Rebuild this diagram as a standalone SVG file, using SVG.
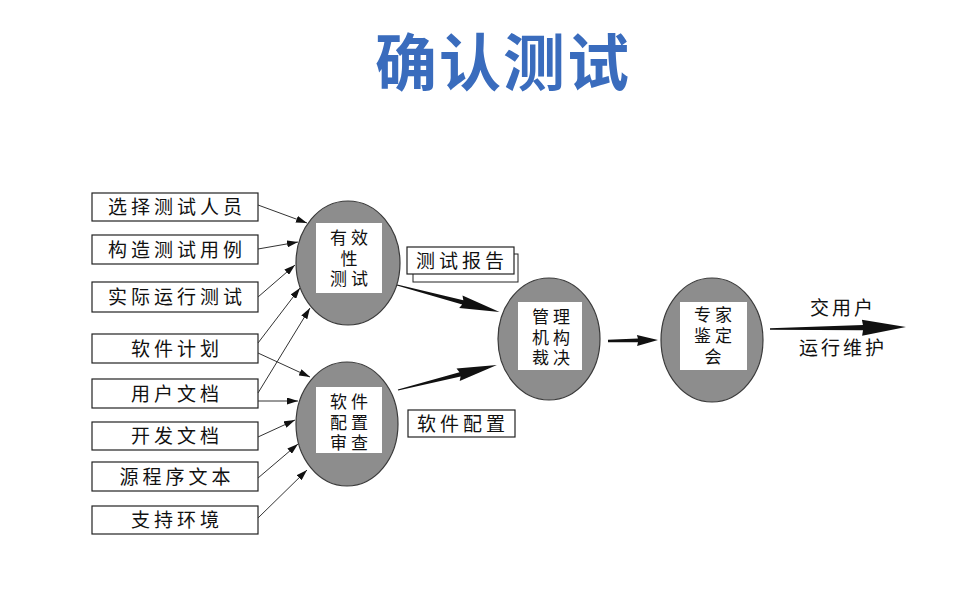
<svg xmlns="http://www.w3.org/2000/svg" width="965" height="589" viewBox="0 0 965 589">
<defs>
<style>
.t{font-family:"Noto Sans CJK SC","Noto Sans CJK JP",sans-serif;fill:#111;}
.box{fill:#fff;stroke:#222;stroke-width:1.2;}
.ell{fill:#8d8d8d;stroke:#3a3a3a;stroke-width:1.2;}
.in{fill:#fff;stroke:none;}
.lb{font-size:19px;letter-spacing:4px;}
.nd{font-family:"Liberation Sans","Noto Sans CJK SC",sans-serif;font-size:17px;letter-spacing:4px;text-anchor:middle;fill:#111;}
.thin{stroke:#333;stroke-width:1;fill:none;marker-end:url(#ah);}
.thick{fill:#111;stroke:none;}
</style>
<marker id="ah" viewBox="0 0 11 7" refX="11" refY="3.5" markerWidth="11" markerHeight="7" orient="auto" markerUnits="userSpaceOnUse">
<path d="M0,0 L11,3.5 L0,7 Z" fill="#111"/>
</marker>
</defs>
<rect width="965" height="589" fill="#fff"/>
<text x="503" y="86" text-anchor="middle" style="font-family:'Noto Sans CJK SC',sans-serif;font-weight:bold;font-size:62px;fill:#3a6cbd;letter-spacing:2px">确认测试</text>

<g id="inputs">
<g id="b1"><rect class="box" x="92" y="193" width="166" height="28"/><text class="t lb" x="177" y="214" text-anchor="middle">选择测试人员</text></g>
<g id="b2"><rect class="box" x="92" y="235" width="166" height="29"/><text class="t lb" x="177" y="256.5" text-anchor="middle">构造测试用例</text></g>
<g id="b3"><rect class="box" x="92" y="282" width="166" height="30"/><text class="t lb" x="177" y="304" text-anchor="middle">实际运行测试</text></g>
<g id="b4"><rect class="box" x="92" y="334" width="166" height="29"/><text class="t lb" x="177" y="355.5" text-anchor="middle">软件计划</text></g>
<g id="b5"><rect class="box" x="92" y="379" width="166" height="29"/><text class="t lb" x="177" y="400.5" text-anchor="middle">用户文档</text></g>
<g id="b6"><rect class="box" x="92" y="422" width="166" height="28"/><text class="t lb" x="177" y="443" text-anchor="middle">开发文档</text></g>
<g id="b7"><rect class="box" x="92" y="462" width="166" height="29"/><text class="t lb" x="177" y="483.5" text-anchor="middle">源程序文本</text></g>
<g id="b8"><rect class="box" x="92" y="506" width="166" height="28"/><text class="t lb" x="177" y="527" text-anchor="middle">支持环境</text></g>
</g>

<g id="n1"><ellipse class="ell" cx="348" cy="263" rx="52" ry="62"/><rect class="in" x="316" y="223" width="66" height="70"/>
<text class="nd" x="351" y="244"><tspan x="351">有效</tspan><tspan x="351" dy="20.5">性</tspan><tspan x="351" dy="20.5">测试</tspan></text></g>

<g id="n2"><ellipse class="ell" cx="347" cy="424" rx="51" ry="62"/><rect class="in" x="316" y="387" width="66" height="66"/>
<text class="nd" x="351" y="408"><tspan x="351">软件</tspan><tspan x="351" dy="20.5">配置</tspan><tspan x="351" dy="20.5">审查</tspan></text></g>

<g id="n3"><ellipse class="ell" cx="549" cy="339" rx="51" ry="61"/><rect class="in" x="518" y="302" width="64" height="68"/>
<text class="nd" x="553" y="323"><tspan x="553">管理</tspan><tspan x="553" dy="20.5">机构</tspan><tspan x="553" dy="20.5">裁决</tspan></text></g>

<g id="n4"><ellipse class="ell" cx="712" cy="340" rx="51" ry="62"/><rect class="in" x="680" y="302" width="67" height="68"/>
<text class="nd" x="715" y="321"><tspan x="715">专家</tspan><tspan x="715" dy="21">鉴定</tspan><tspan x="715" dy="21">会</tspan></text></g>

<g id="l1"><rect x="413" y="254" width="105" height="28" fill="#fff" stroke="#222" stroke-width="1"/><rect class="box" x="407" y="247" width="107" height="27"/>
<text class="t lb" x="462" y="267.5" text-anchor="middle">测试报告</text></g>
<g id="l2"><rect class="box" x="408" y="410" width="107" height="27"/>
<text class="t lb" x="463" y="430.5" text-anchor="middle">软件配置</text></g>

<g id="l3"><text class="t" x="843" y="315" text-anchor="middle" style="font-size:19px;letter-spacing:3px">交用户</text>
<text class="t" x="843" y="355" text-anchor="middle" style="font-size:19px;letter-spacing:3px">运行维护</text></g>

<g id="connectors">
<line class="thin" x1="258" y1="205" x2="307" y2="223"/>
<line class="thin" x1="258" y1="249" x2="298" y2="242"/>
<line class="thin" x1="258" y1="297" x2="295" y2="265"/>
<line class="thin" x1="258" y1="343" x2="300" y2="288"/>
<line class="thin" x1="258" y1="393" x2="310" y2="308"/>
<line class="thin" x1="258" y1="353" x2="310" y2="377"/>
<line class="thin" x1="258" y1="401" x2="298" y2="401"/>
<line class="thin" x1="258" y1="437" x2="295" y2="420"/>
<line class="thin" x1="258" y1="478" x2="298" y2="444"/>
<line class="thin" x1="258" y1="518" x2="307" y2="470"/>
<path class="thick" transform="translate(397,285) rotate(14.7)" d="M0,-0.6 L68,-2.2 L66,-6.5 L106,0 L66,6.5 L68,2.2 L0,0.6 Z"/>
<path class="thick" transform="translate(398,390) rotate(-14.2)" d="M0,-0.6 L64,-2.2 L62,-6.5 L102,0 L62,6.5 L64,2.2 L0,0.6 Z"/>
<path class="thick" transform="translate(608,341) rotate(-1.1)" d="M0,-1.2 L30,-1.8 L29,-5.5 L50,0 L29,5.5 L30,1.8 L0,1.2 Z"/>
<path class="thick" transform="translate(770,329) rotate(-0.8)" d="M0,-0.8 L93,-2.6 L92,-8 L136,0 L92,8 L93,2.6 L0,0.8 Z"/>
</g>
</svg>
